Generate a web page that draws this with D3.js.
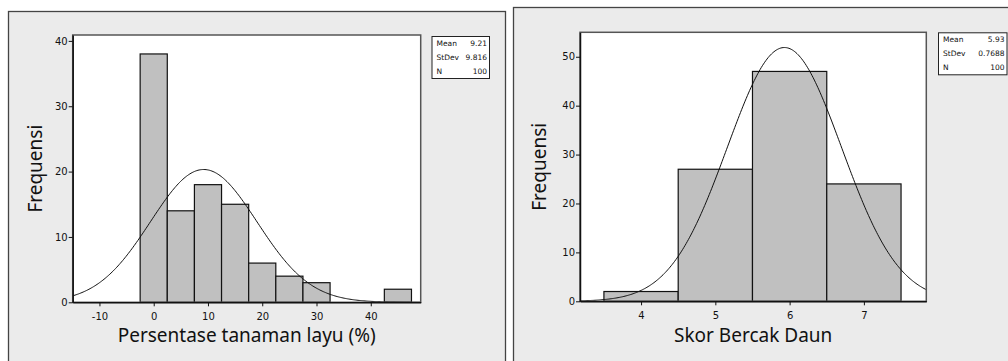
<!DOCTYPE html>
<html>
<head>
<meta charset="utf-8">
<script src="https://cdn.jsdelivr.net/npm/d3@7"></script>
<style>
  html, body { margin: 0; padding: 0; background: #fff; }
  svg { display: block; }
  text { font-family: "DejaVu Sans", sans-serif; fill: #111; }
</style>
</head>
<body>
<svg id="chart" width="1008" height="361"></svg>
<script>
// --- data: chart 1 (Persentase tanaman layu) ---
var layuBinCenters = [0, 5, 10, 15, 20, 25, 30, 35, 40, 45];
var layuCounts     = [38, 14, 18, 15, 6, 4, 3, 0, 0, 2];
var layuStats      = { mean: 9.21, sd: 9.816, n: 100 };
var layuStatLabels = [['Mean', '9.21'], ['StDev', '9.816'], ['N', '100']];
var layuXTicks     = [-10, 0, 10, 20, 30, 40];
var layuYTicks     = [0, 10, 20, 30, 40];

// --- data: chart 2 (Skor Bercak Daun) ---
var skorBinCenters = [4, 5, 6, 7];
var skorCounts     = [2, 27, 47, 24];
var skorStats      = { mean: 5.93, sd: 0.7688, n: 100 };
var skorStatLabels = [['Mean', '5.93'], ['StDev', '0.7688'], ['N', '100']];
var skorXTicks     = [4, 5, 6, 7];
var skorYTicks     = [0, 10, 20, 30, 40, 50];

var svg = d3.select('#chart');

// plain hyphen for negatives, like the original
function plainTick(v) { return String(v); }

function drawPanel(cfg) {
    var g = svg.append('g');

    // panel background + border
    g.append('rect')
        .attr('x', cfg.panel[0] + 0.5).attr('y', cfg.panel[1] + 0.5)
        .attr('width', cfg.panel[2]).attr('height', cfg.panel[3])
        .attr('fill', '#ebebeb')
        .attr('stroke', '#444').attr('stroke-width', 1.3);

    var p = cfg.plot; // [left, top, right, bottom]
    var x = d3.scaleLinear().domain(cfg.xDomain).range([p[0], p[2]]);
    var y = d3.scaleLinear().domain(cfg.yDomain).range([p[3], p[1]]);

    var clipId = 'clip-' + cfg.id;
    svg.append('clipPath').attr('id', clipId)
        .append('rect').attr('x', p[0]).attr('y', p[1])
        .attr('width', p[2] - p[0]).attr('height', p[3] - p[1]);

    g.append('rect')
        .attr('x', p[0]).attr('y', p[1])
        .attr('width', p[2] - p[0]).attr('height', p[3] - p[1])
        .attr('fill', '#fff');

    // bars
    var half = cfg.binWidth / 2;
    var bars = cfg.centers.map(function (c, i) { return { c: c, v: cfg.counts[i] }; })
        .filter(function (d) { return d.v > 0; });
    g.append('g').selectAll('rect')
        .data(bars)
        .join('rect')
        .attr('x', function (d) { return x(d.c - half); })
        .attr('y', function (d) { return y(d.v); })
        .attr('width', function (d) { return x(d.c + half) - x(d.c - half); })
        .attr('height', function (d) { return y(0) - y(d.v); })
        .attr('fill', '#c0c0c0')
        .attr('stroke', '#111')
        .attr('stroke-width', 1.2);

    // normal curve
    var s = cfg.stats;
    var k = s.n * cfg.binWidth / (s.sd * Math.sqrt(2 * Math.PI));
    var xs = d3.range(cfg.xDomain[0], cfg.xDomain[1], (cfg.xDomain[1] - cfg.xDomain[0]) / 300)
        .concat([cfg.xDomain[1]]);
    var line = d3.line()
        .x(function (v) { return x(v); })
        .y(function (v) { var z = (v - s.mean) / s.sd; return y(k * Math.exp(-0.5 * z * z)); })
        .curve(d3.curveBasis);
    g.append('path')
        .datum(xs)
        .attr('d', line)
        .attr('fill', 'none')
        .attr('stroke', '#111')
        .attr('stroke-width', 1)
        .attr('clip-path', 'url(#' + clipId + ')');

    // frame
    g.append('rect')
        .attr('x', p[0]).attr('y', p[1])
        .attr('width', p[2] - p[0]).attr('height', p[3] - p[1])
        .attr('fill', 'none')
        .attr('stroke', '#555').attr('stroke-width', 1.5);

    // axes
    var xAxis = g.append('g')
        .attr('transform', 'translate(0,' + p[3] + ')')
        .call(d3.axisBottom(x).tickValues(cfg.xTicks).tickFormat(plainTick).tickSize(4).tickSizeOuter(0));
    var yAxis = g.append('g')
        .attr('transform', 'translate(' + p[0] + ',0)')
        .call(d3.axisLeft(y).tickValues(cfg.yTicks).tickFormat(plainTick).tickSize(4).tickSizeOuter(0));
    [xAxis, yAxis].forEach(function (a) {
        a.select('.domain').attr('stroke', '#111').attr('stroke-width', 1.5);
        a.selectAll('.tick line').attr('stroke', '#111');
        a.selectAll('.tick text')
            .style('font-family', '"DejaVu Sans", sans-serif')
            .style('font-size', '10px').attr('fill', '#222');
    });
    xAxis.selectAll('.tick text').attr('dy', '1.1em');
    yAxis.selectAll('.tick text').attr('x', -5);

    // axis titles
    g.append('text')
        .attr('x', (p[0] + p[2]) / 2).attr('y', cfg.xTitleY)
        .attr('text-anchor', 'middle')
        .style('font-family', '"Noto Sans", sans-serif')
        .style('font-size', '19px')
        .text(cfg.xTitle);
    g.append('text')
        .attr('transform', 'translate(' + cfg.yTitleX + ',' + (p[1] + p[3]) / 2 + ') rotate(-90)')
        .attr('text-anchor', 'middle')
        .style('font-family', '"Noto Sans", sans-serif')
        .style('font-size', '19px')
        .text('Frequensi');

    // stats box
    var b = cfg.statBox; // [x, y, w, h]
    g.append('rect')
        .attr('x', b[0] + 0.5).attr('y', b[1] + 0.5)
        .attr('width', b[2]).attr('height', b[3])
        .attr('fill', '#fff').attr('stroke', '#222').attr('stroke-width', 1);
    var rowH = b[3] / 3;
    var rows = g.append('g').selectAll('g')
        .data(cfg.statLabels)
        .join('g')
        .attr('transform', function (d, i) { return 'translate(0,' + (b[1] + rowH * (i + 0.5)) + ')'; });
    rows.append('text')
        .attr('x', b[0] + 5).attr('dy', '0.35em')
        .style('font-size', '7.5px')
        .text(function (d) { return d[0]; });
    rows.append('text')
        .attr('x', b[0] + b[2] - 2).attr('dy', '0.35em')
        .attr('text-anchor', 'end')
        .style('font-size', '7.5px')
        .text(function (d) { return d[1]; });
}

drawPanel({
    id: 'layu',
    panel: [8, 11, 497, 360],
    plot: [72.7, 35, 420.7, 302.3],
    xDomain: [-14.93, 49.2],
    yDomain: [0, 40.9],
    binWidth: 5,
    centers: layuBinCenters,
    counts: layuCounts,
    stats: layuStats,
    statLabels: layuStatLabels,
    xTicks: layuXTicks,
    yTicks: layuYTicks,
    xTitle: 'Persentase tanaman layu (%)',
    xTitleY: 342,
    yTitleX: 42,
    statBox: [431.5, 36, 57.5, 42]
});

drawPanel({
    id: 'skor',
    panel: [513, 7, 500, 360],
    plot: [580, 32.3, 926.3, 301.3],
    xDomain: [3.178, 7.84],
    yDomain: [0, 55],
    binWidth: 1,
    centers: skorBinCenters,
    counts: skorCounts,
    stats: skorStats,
    statLabels: skorStatLabels,
    xTicks: skorXTicks,
    yTicks: skorYTicks,
    xTitle: 'Skor Bercak Daun',
    xTitleY: 342,
    yTitleX: 546,
    statBox: [938, 32.3, 68.5, 42]
});
</script>
</body>
</html>
